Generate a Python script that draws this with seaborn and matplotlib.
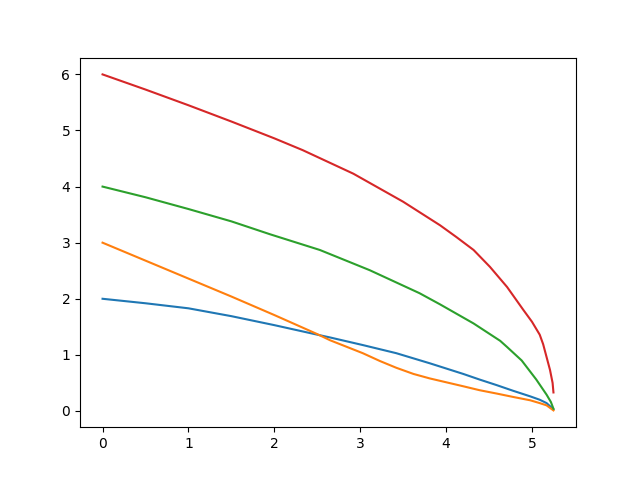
import numpy as np
import pandas as pd
import matplotlib
matplotlib.use("Agg")
import matplotlib.pyplot as plt
import seaborn as sns

# values
x_blue = [0, 0.5, 1, 1.5, 2, 2.5, 2.65, 3.03, 3.42, 3.81, 4.2, 4.39, 4.59, 4.78, 4.98, 5.09, 5.17, 5.25]
y_blue = [2.0, 1.92, 1.83, 1.69, 1.53, 1.36, 1.31, 1.175, 1.03, 0.85, 0.66, 0.56, 0.46, 0.36, 0.26, 0.20, 0.14, 0.03]

x_orange = [0, 0.5, 1, 1.5, 2, 2.5, 2.65, 3.03, 3.23, 3.42, 3.62, 3.81, 4.2, 4.39, 4.59, 4.78, 4.98, 5.09, 5.17, 5.25]
y_orange = [3.0, 2.68, 2.36, 2.04, 1.71, 1.37, 1.26, 1.03, 0.89, 0.77, 0.66, 0.58, 0.44, 0.37, 0.31, 0.25, 0.19, 0.14, 0.10, 0.01]

x_green = [0, 0.5, 1, 1.5, 1.95, 2.53, 3.11, 3.69, 3.93, 4.32, 4.51, 4.63, 4.71, 4.88, 5.05, 5.17, 5.22, 5.25]
y_green = [4.0, 3.81, 3.60, 3.38, 3.15, 2.87, 2.51, 2.10, 1.90, 1.56, 1.37, 1.25, 1.14, 0.90, 0.56, 0.29, 0.16, 0.04]

x_red = [0, 0.5, 1, 1.5, 2, 2.33, 2.92, 3.5, 3.93, 4.12, 4.32, 4.51, 4.71, 4.90, 5.0, 5.09, 5.13, 5.21, 5.24, 5.25]
y_red = [6.0, 5.73, 5.45, 5.16, 4.86, 4.65, 4.23, 3.73, 3.31, 3.10, 2.87, 2.57, 2.21, 1.80, 1.59, 1.36, 1.19, 0.73, 0.50, 0.33]

series = [(x_blue, y_blue), (x_orange, y_orange), (x_green, y_green), (x_red, y_red)]
colors = sns.color_palette("tab10", 4)

fig, ax = plt.subplots(figsize=(6.4, 4.8), dpi=100)
for (xs, ys), c in zip(series, colors):
    sns.lineplot(x=xs, y=ys, ax=ax, color=c, sort=False, estimator=None, linewidth=1.5)

fig.savefig("out.png", dpi=100)
